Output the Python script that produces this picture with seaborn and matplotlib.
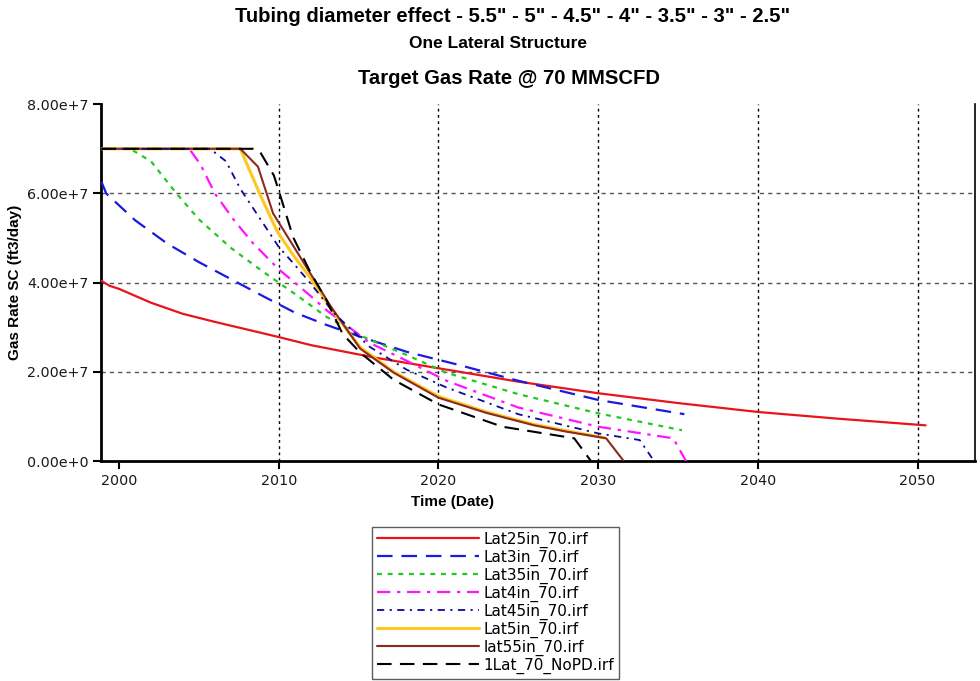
import matplotlib
matplotlib.use("Agg")
import matplotlib.pyplot as plt
import seaborn as sns
import pandas as pd

sns.set_theme(style="white")
plt.rcParams['font.family'] = ['Liberation Sans', 'DejaVu Sans']
plt.rcParams['text.color'] = 'black'
plt.rcParams['axes.labelcolor'] = 'black'

# ---- data ----
series_names = ["Lat25in_70.irf", "Lat3in_70.irf", "Lat35in_70.irf", "Lat4in_70.irf",
                "Lat45in_70.irf", "Lat5in_70.irf", "lat55in_70.irf", "1Lat_70_NoPD.irf"]

lat25_t = [1998.9, 1999.4, 2000.0, 2002.0, 2004.0, 2006.0, 2008.0, 2010.0, 2012.0, 2014.0,
           2016.0, 2018.0, 2020.0, 2025.0, 2030.0, 2035.0, 2040.0, 2045.0, 2050.5]
lat25_q = [4.04e7, 3.93e7, 3.86e7, 3.55e7, 3.30e7, 3.12e7, 2.95e7, 2.78e7, 2.60e7, 2.46e7,
           2.32e7, 2.20e7, 2.08e7, 1.78e7, 1.52e7, 1.30e7, 1.10e7, 0.95e7, 0.80e7]

lat3_t = [1998.9, 1999.2, 2001.0, 2003.0, 2005.0, 2007.0, 2009.0, 2011.0, 2013.0, 2015.0,
          2018.0, 2021.0, 2025.0, 2030.0, 2035.4]
lat3_q = [6.26e7, 6.00e7, 5.40e7, 4.88e7, 4.46e7, 4.08e7, 3.70e7, 3.33e7, 3.05e7, 2.80e7,
          2.45e7, 2.18e7, 1.80e7, 1.37e7, 1.05e7]

lat35_t = [1998.9, 2000.7, 2002.0, 2003.6, 2005.0, 2007.0, 2009.0, 2011.0, 2013.0, 2015.5,
           2018.0, 2020.5, 2025.0, 2030.0, 2035.25]
lat35_q = [7.0e7, 7.0e7, 6.72e7, 6.00e7, 5.42e7, 4.78e7, 4.25e7, 3.75e7, 3.23e7, 2.75e7,
           2.38e7, 1.98e7, 1.50e7, 1.07e7, 0.69e7]

lat4_t = [1998.9, 2004.4, 2005.1, 2006.0, 2007.2, 2008.4, 2010.0, 2011.0, 2012.0, 2013.0,
          2015.7, 2018.0, 2020.5, 2025.0, 2030.0, 2034.7, 2035.5]
lat4_q = [7.0e7, 7.0e7, 6.65e7, 6.00e7, 5.40e7, 4.88e7, 4.30e7, 4.00e7, 3.70e7, 3.38e7,
          2.65e7, 2.25e7, 1.80e7, 1.20e7, 0.77e7, 0.51e7, 0.0]

lat45_t = [1998.9, 2005.7, 2006.7, 2007.6, 2008.8, 2010.0, 2011.0, 2012.0, 2013.5, 2015.7,
           2018.0, 2020.5, 2025.0, 2030.0, 2032.6, 2033.5]
lat45_q = [7.0e7, 7.0e7, 6.72e7, 6.10e7, 5.45e7, 4.80e7, 4.40e7, 3.98e7, 3.30e7, 2.56e7,
           2.05e7, 1.65e7, 1.05e7, 0.62e7, 0.47e7, 0.0]

lat5_t = [1998.9, 2007.6, 2008.2, 2008.8, 2009.9, 2010.9, 2012.1, 2013.2, 2015.1, 2017.2,
          2020.0, 2023.0, 2026.0, 2028.0, 2030.4]
lat5_q = [7.0e7, 7.0e7, 6.50e7, 6.00e7, 5.15e7, 4.62e7, 4.05e7, 3.45e7, 2.55e7, 2.00e7,
          1.45e7, 1.10e7, 0.82e7, 0.68e7, 0.52e7]

lat55_t = [1998.9, 2007.6, 2008.7, 2009.65, 2011.3, 2012.2, 2013.2, 2015.1, 2017.2, 2020.0,
           2023.0, 2026.0, 2028.0, 2030.5, 2031.6]
lat55_q = [7.0e7, 7.0e7, 6.60e7, 5.55e7, 4.60e7, 4.08e7, 3.50e7, 2.52e7, 1.98e7, 1.42e7,
           1.08e7, 0.80e7, 0.66e7, 0.51e7, 0.0]

nopd_t = [1998.9, 2008.4, 2008.8, 2009.7, 2010.1, 2010.9, 2012.0, 2013.0, 2014.0, 2015.1,
          2017.2, 2020.0, 2024.0, 2028.5, 2029.55]
nopd_q = [7.0e7, 7.0e7, 6.95e7, 6.40e7, 5.95e7, 5.02e7, 4.22e7, 3.60e7, 2.85e7, 2.43e7,
          1.82e7, 1.27e7, 0.77e7, 0.51e7, 0.0]

x_ticks = [2000, 2010, 2020, 2030, 2040, 2050]
y_ticks = [0.0, 2e7, 4e7, 6e7, 8e7]
y_tick_labels = ["0.00e+0", "2.00e+7", "4.00e+7", "6.00e+7", "8.00e+7"]

title1 = 'Tubing diameter effect - 5.5" - 5" - 4.5" - 4" - 3.5" - 3" - 2.5"'
title2 = "One Lateral Structure"
title3 = "Target Gas Rate @ 70 MMSCFD"

# ---- styles ----
styles = [
    dict(color="#e8141b", lw=1.6, dashes=None, z=3),
    dict(color="#1a1ae0", lw=1.6, dashes=(7, 4), z=3),
    dict(color="#22c822", lw=1.6, dashes=(2.2, 2.6), z=3),
    dict(color="#ff14ff", lw=1.6, dashes=(6, 3, 1.5, 3), z=3),
    dict(color="#0a0a9a", lw=1.3, dashes=(4, 3, 1.2, 3), z=5),
    dict(color="#ffc81e", lw=2.2, dashes=None, z=3),
    dict(color="#8c2a1e", lw=1.5, dashes=None, z=4),
    dict(color="#000000", lw=1.5, dashes=(7, 4), z=6),
]

data = [(lat25_t, lat25_q), (lat3_t, lat3_q), (lat35_t, lat35_q), (lat4_t, lat4_q),
        (lat45_t, lat45_q), (lat5_t, lat5_q), (lat55_t, lat55_q), (nopd_t, nopd_q)]

fig = plt.figure(figsize=(9.8, 6.81), dpi=100)
ax = fig.add_axes([0.103, 0.323, 0.892, 0.524])

# grid
for yv in y_ticks[1:-1]:
    ax.axhline(yv, color="#555555", lw=1.0, dashes=(3, 3), zorder=0)
for xv in x_ticks[1:]:
    ax.axvline(xv, color="#000000", lw=1.0, dashes=(2, 2.5), zorder=0)

handles = []
for name, (t, q), st in zip(series_names, data, styles):
    df = pd.DataFrame({"t": t, "q": q})
    sns.lineplot(data=df, x="t", y="q", ax=ax, color=st["color"], lw=st["lw"],
                 sort=False, estimator=None, label=name, zorder=st["z"])
    line = ax.get_lines()[-1]
    if st["dashes"] is not None:
        line.set_dashes(st["dashes"])
    handles.append(line)

ax.set_xlim(1998.87, 2053.6)
ax.set_ylim(0, 8e7)
ax.set_xticks(x_ticks)
ax.set_yticks(y_ticks)
ax.set_yticklabels(y_tick_labels)
ax.tick_params(axis="both", which="major", direction="out", length=6, width=1.5,
               labelsize=10.3, colors="black", left=True, bottom=True, pad=3)
for lab in ax.get_xticklabels() + ax.get_yticklabels():
    lab.set_color("#1a1a1a")
    lab.set_family("DejaVu Sans")

ax.set_xlabel("Time (Date)", fontsize=11, fontweight="bold")
ax.xaxis.set_label_coords(0.402, -0.095)
ax.set_ylabel("Gas Rate SC (ft3/day)", fontsize=11, fontweight="bold")
ax.yaxis.set_label_coords(-0.090, 0.5)

for s in ["left", "bottom"]:
    ax.spines[s].set_linewidth(2.0)
    ax.spines[s].set_color("black")
ax.spines["right"].set_linewidth(1.2)
ax.spines["right"].set_color("black")
ax.spines["top"].set_visible(False)

ax.get_legend().remove()
leg = fig.legend(handles=handles, labels=series_names, loc="upper left",
                 bbox_to_anchor=(372 / 980, 1 - 527 / 681), frameon=True, fancybox=False,
                 prop={"family": "DejaVu Sans", "size": 11},
                 handlelength=6.7, handletextpad=0.3, labelspacing=0.12,
                 borderpad=0.3, borderaxespad=0.0)
leg.get_frame().set_edgecolor("#333333")
leg.get_frame().set_linewidth(1.0)

fig.text(0.523, 1 - 17 / 681, title1, ha="center", va="center", fontsize=14.6,
         fontweight="bold", color="black")
fig.text(0.508, 1 - 43 / 681, title2, ha="center", va="center", fontsize=12.5,
         fontweight="bold", color="black")
fig.text(0.519, 1 - 79 / 681, title3, ha="center", va="center", fontsize=14.6,
         fontweight="bold", color="black")

fig.savefig("out.png", dpi=100, facecolor="white")
